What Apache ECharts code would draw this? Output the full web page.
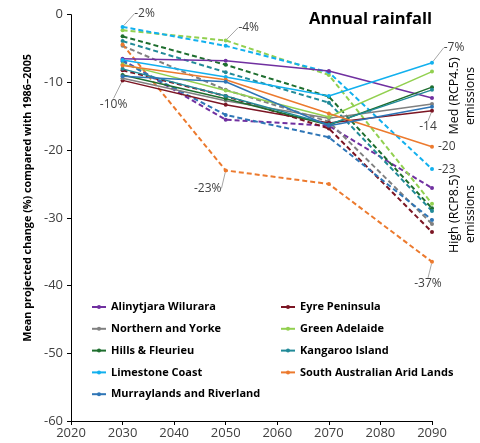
<!DOCTYPE html>
<html>
<head>
<meta charset="utf-8">
<script src="https://cdn.jsdelivr.net/npm/echarts@6/dist/echarts.min.js"></script>
<style>
  html, body { margin: 0; padding: 0; background: #fff; }
  #chart { width: 480px; height: 443px; }
</style>
</head>
<body>
<div id="chart"></div>
<script>
// data
const years = [2030, 2050, 2070, 2090];
const regions = ['Alinytjara Wilurara', 'Eyre Peninsula', 'Northern and Yorke', 'Green Adelaide',
  'Hills & Fleurieu', 'Kangaroo Island', 'Limestone Coast', 'South Australian Arid Lands',
  'Murraylands and Riverland'];
const colors = ['#7030A0', '#7B1523', '#808080', '#92D050', '#1E6E2E', '#218A98', '#12B0EE', '#EC7A2E', '#2E75B6'];

// medium emissions (RCP4.5), solid
const medAlinytjara = [-6.5, -6.8, -8.3, -12.3];
const medEyre = [-9.7, -13.3, -16.0, -14.2];
const medNorthern = [-9.4, -12.7, -15.3, -13.2];
const medGreenAdelaide = [-7.3, -11.2, -15.1, -8.4];
const medHills = [-8.9, -12.4, -16.3, -10.7];
const medKangaroo = [-8.0, -12.0, -16.2, -11.1];
const medLimestone = [-6.7, -9.2, -12.0, -7.1];
const medArid = [-7.5, -9.6, -14.6, -19.5];
const medMurraylands = [-9.1, -9.9, -16.4, -13.6];

// high emissions (RCP8.5), dashed
const highAlinytjara = [-6.7, -15.5, -16.4, -25.6];
const highEyre = [-8.2, -12.0, -16.8, -32.1];
const highNorthern = [-4.6, -11.1, -15.8, -30.9];
const highGreenAdelaide = [-2.3, -3.8, -8.9, -27.9];
const highHills = [-3.2, -7.4, -12.1, -28.6];
const highKangaroo = [-3.9, -8.5, -13.0, -29.0];
const highLimestone = [-1.8, -4.6, -8.5, -22.8];
const highArid = [-4.4, -23.0, -25.0, -36.5];
const highMurraylands = [-6.9, -14.8, -18.1, -30.3];

const medSeries = [medAlinytjara, medEyre, medNorthern, medGreenAdelaide, medHills,
  medKangaroo, medLimestone, medArid, medMurraylands];
const highSeries = [highAlinytjara, highEyre, highNorthern, highGreenAdelaide, highHills,
  highKangaroo, highLimestone, highArid, highMurraylands];

// point annotations: [scenario, region index, year index, text]
const notes = [
  ['high', 6, 0, '-2%'],
  ['high', 3, 1, '-4%'],
  ['med', 1, 0, '-10%'],
  ['high', 7, 1, '-23%'],
  ['med', 6, 3, '-7%'],
  ['med', 1, 3, '-14'],
  ['med', 7, 3, '-20'],
  ['high', 6, 3, '-23'],
  ['high', 7, 3, '-37%']
];
// label placement per annotation text
const noteStyle = {
  '-2%': { position: 'top', dx: 22, dy: -1, line: true },
  '-4%': { position: 'top', dx: 23, dy: -1, line: true },
  '-10%': { position: 'bottom', dx: -9, dy: 12, line: true },
  '-23%': { position: 'bottom', dx: -18, dy: 6, line: true },
  '-7%': { position: 'top', dx: 22, dy: -3, line: true },
  '-14': { position: 'bottom', dx: -4, dy: 4, line: true },
  '-20': { position: 'right' },
  '-23': { position: 'right' },
  '-37%': { position: 'bottom', dx: -4, dy: 10, line: true }
};

const font = '"Open Sans", "Noto Sans", sans-serif';
const chart = echarts.init(document.getElementById('chart'));

function buildData(kind, ri, values) {
  return values.map((v, i) => {
    const note = notes.find(n => n[0] === kind && n[1] === ri && n[2] === i);
    if (!note) return [years[i], v];
    const st = noteStyle[note[3]];
    return {
      value: [years[i], v],
      label: { show: true, formatter: note[3], position: st.position, distance: 4 },
      labelLine: { show: !!st.line }
    };
  });
}

function hasLeader(kind, ri) {
  return notes.some(n => n[0] === kind && n[1] === ri && noteStyle[n[3]].line);
}

function makeSeries(kind, ri, values) {
  return {
    name: regions[ri],
    type: 'line',
    color: colors[ri],
    symbol: 'circle',
    symbolSize: 4,
    z: kind === 'med' ? 3 : 2,
    lineStyle: {
      width: kind === 'med' ? 1.5 : 2,
      type: kind === 'med' ? 'solid' : [5, 3],
      color: colors[ri]
    },
    itemStyle: { color: colors[ri] },
    label: {
      show: false,
      fontFamily: font,
      fontSize: 12,
      color: '#404040'
    },
    labelLine: {
      show: hasLeader(kind, ri),
      length2: 0,
      lineStyle: { color: '#a6a6a6', width: 1 }
    },
    labelLayout: function (params) {
      const st = noteStyle[params.text];
      if (!st || !st.line) return {};
      return { dx: st.dx, dy: st.dy };
    },
    emphasis: { disabled: true },
    data: buildData(kind, ri, values)
  };
}

const series = [];
medSeries.forEach((vals, ri) => series.push(makeSeries('med', ri, vals)));
highSeries.forEach((vals, ri) => series.push(makeSeries('high', ri, vals)));

const legendText = { fontFamily: font, fontSize: 11, fontWeight: 'bold', color: '#000', lineHeight: 14 };

chart.setOption({
  animation: false,
  textStyle: { fontFamily: font },
  title: {
    text: 'Annual rainfall',
    left: 304,
    top: 6,
    textStyle: { fontFamily: font, fontSize: 16.5, fontWeight: 'bold', color: '#000' }
  },
  grid: { left: 71, right: 48, top: 14.7, bottom: 22 },
  legend: [{
    data: [regions[0], regions[2], regions[4], regions[6], regions[8]],
    orient: 'vertical',
    left: 86,
    top: 295,
    itemWidth: 14,
    itemHeight: 5,
    itemGap: 7.8,
    textStyle: legendText
  }, {
    data: [regions[1], regions[3], regions[5], regions[7]],
    orient: 'vertical',
    left: 275,
    top: 295,
    itemWidth: 14,
    itemHeight: 5,
    itemGap: 7.8,
    textStyle: legendText
  }],
  xAxis: {
    type: 'value',
    min: 2020,
    max: 2090,
    interval: 10,
    splitLine: { show: false },
    axisLine: { onZero: false, lineStyle: { color: '#000', width: 1 } },
    axisTick: { show: true, length: 4, lineStyle: { color: '#000' } },
    axisLabel: { fontFamily: font, fontSize: 13, color: '#404040', margin: 6, formatter: v => String(v) }
  },
  yAxis: {
    type: 'value',
    min: -60,
    max: 0,
    interval: 10,
    name: 'Mean projected change (%) compared with 1986–2005',
    nameLocation: 'middle',
    nameGap: 38,
    nameTextStyle: {
      fontFamily: font, fontSize: 10.8, fontWeight: 'bold', color: '#000',
      padding: [0, 0, 0, 40]
    },
    splitLine: { show: false },
    axisLine: { show: true, lineStyle: { color: '#000', width: 1 } },
    axisTick: { show: true, length: 4, lineStyle: { color: '#000' } },
    axisLabel: { fontFamily: font, fontSize: 13, color: '#404040', margin: 8 }
  },
  graphic: [{
    type: 'text',
    x: 462,
    y: 96,
    rotation: Math.PI / 2,
    style: {
      text: 'Med (RCP4.5)\nemissions',
      fontFamily: font, fontSize: 12.5, fill: '#000',
      align: 'center', verticalAlign: 'middle', lineHeight: 16
    }
  }, {
    type: 'text',
    x: 462,
    y: 214,
    rotation: Math.PI / 2,
    style: {
      text: 'High (RCP8.5)\nemissions',
      fontFamily: font, fontSize: 12.5, fill: '#000',
      align: 'center', verticalAlign: 'middle', lineHeight: 16
    }
  }],
  series: series
});
</script>
</body>
</html>
